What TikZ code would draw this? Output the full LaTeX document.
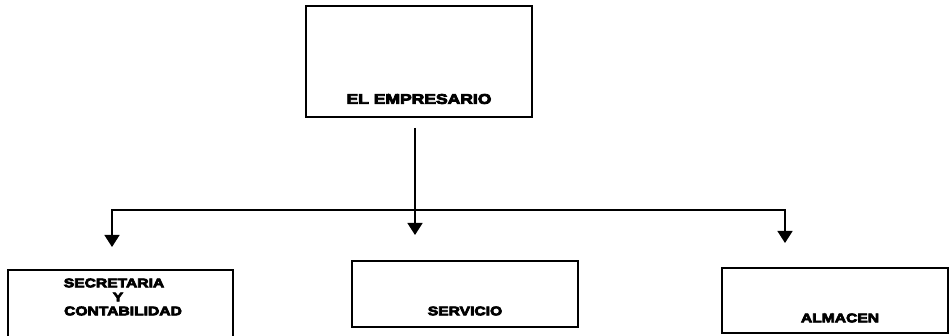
\documentclass[tikz,border=0pt]{standalone}
\usepackage{fontspec}
\newfontfamily\orgfont{Liberation Sans Bold}[FakeStretch=1.25,FakeBold=6]
\usetikzlibrary{arrows.meta}
\begin{document}
\begin{tikzpicture}[x=1pt,y=-1pt,
  box/.style={draw=black,line width=1.6pt,rectangle,inner sep=0pt},
  lbl/.style={font=\orgfont\fontsize{12.5}{12.5}\selectfont,inner sep=0pt,anchor=center},
  conn/.style={draw=black,line width=1.5pt,line join=miter,-{Triangle[width=15pt,length=12pt]}}]
\useasboundingbox (0,0) rectangle (949,336);
\clip (0,0) rectangle (949,336);
% boxes
\node[box,minimum width=226pt,minimum height=111pt] (emp) at (419,61.5) {};
\node[lbl,font=\orgfont\fontsize{14}{14}\selectfont] (empt) at (419,99) {EL EMPRESARIO};
\node[box,minimum width=225pt,minimum height=90pt] (sec) at (120.5,315) {};
\node[lbl] (sect1) at (114,283) {SECRETARIA};
\node[lbl] (sect2) at (118,297) {Y};
\node[lbl] (sect3) at (123,311) {CONTABILIDAD};
\node[box,minimum width=226pt,minimum height=66pt] (ser) at (465,294) {};
\node[lbl] (sert) at (465,311) {SERVICIO};
\node[box,minimum width=226pt,minimum height=65pt] (alm) at (835,300.5) {};
\node[lbl] (almt) at (840,318) {ALMACEN};
% connector points
\coordinate (s) at (415,128);
\coordinate (jM) at (415,210);
\coordinate (jL) at (112,210);
\coordinate (jR) at (785,210);
\coordinate (tL) at (112,247);
\coordinate (tM) at (415,235);
\coordinate (tR) at (785,243);
\draw[conn] (s) -- (tM);
\draw[conn] (jM) -- (jL) -- (tL);
\draw[conn] (jM) -- (jR) -- (tR);
\end{tikzpicture}
\end{document}
